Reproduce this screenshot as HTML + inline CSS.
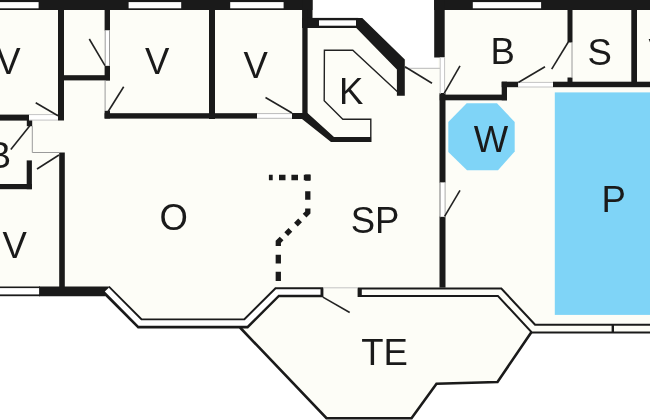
<!DOCTYPE html>
<html><head><meta charset="utf-8">
<style>
html,body{margin:0;padding:0;background:#fff;}
body{width:650px;height:420px;overflow:hidden;}
svg{display:block;}
text{font-family:"Liberation Sans",sans-serif;font-size:36.5px;fill:#1a1a1a;}
</style></head><body>
<svg width="650" height="420" viewBox="0 0 650 420">
<!-- interior fill -->
<polygon points="0,0 313,0 313,18 360,18 406,60 406,68 438,68 438,0 650,0 650,333 532,333 497,382 436,383 411,418 328,418 240,327 140,327 105,295 0,295" fill="#fdfdf7"/>
<!-- pool -->
<rect x="554.8" y="92.4" width="96" height="222.5" fill="#7fd4f7"/>
<polygon points="466.7,103.3 497,103.3 514.7,122 514.7,151.5 498,170.3 467,170.3 448.3,152 448.3,122" fill="#7fd4f7"/>

<g fill="#1a1a1a">
<!-- top wall left -->
<rect x="0" y="0" width="312.5" height="10"/>
<rect x="302.2" y="0" width="10.3" height="28"/>
<rect x="302.3" y="17.9" width="56" height="10.1"/>
<polygon points="356.8,17.9 362.3,17.9 404.8,59.6 404.8,95.8 396.9,95.8 396.9,69.5 356.3,28"/>
<!-- verticals -->
<rect x="58" y="9" width="6" height="111.5"/>
<rect x="104.6" y="9" width="5.4" height="21.5"/>
<rect x="104.6" y="65.6" width="5.4" height="14.8"/>
<rect x="64" y="75.2" width="46" height="5.2"/>
<rect x="209" y="9" width="6" height="110"/>
<rect x="302.3" y="9" width="5.3" height="109.6"/>
<!-- horizontal wall under V2,V3 -->
<rect x="104.6" y="113.2" width="152.4" height="5.4"/>
<rect x="104.6" y="110.8" width="5.4" height="7.7"/>
<rect x="292" y="113" width="14" height="6"/>
<polygon points="302,113 307.5,113 334,137 371.5,137 371.5,142 331,142 302,119"/>
<!-- left B room -->
<rect x="0" y="114.6" width="29" height="6"/>
<rect x="26.8" y="120" width="5.4" height="6.2"/>
<rect x="26.7" y="160.4" width="5.2" height="28.8"/>
<rect x="0" y="184" width="31.9" height="5.2"/>
<rect x="59.2" y="152.5" width="5.6" height="135"/>
<polygon points="39,286.5 109,286.5 105.3,296.2 39,296.2"/>
<!-- right block top -->
<rect x="434.2" y="0" width="216" height="10"/>
<rect x="434.2" y="0" width="10.5" height="57.5"/>
<rect x="439.7" y="94.6" width="67.3" height="5.7"/>
<rect x="501.7" y="81.7" width="5.3" height="18.6"/>
<rect x="501.7" y="81.7" width="16.6" height="5.5"/>
<rect x="553" y="81.7" width="98" height="5.5"/>
<rect x="567.5" y="9" width="5" height="33.5"/>
<rect x="567.5" y="77.5" width="5" height="5"/>
<rect x="631.3" y="9" width="5.7" height="73"/>
<rect x="439.5" y="93" width="6" height="89.6"/>
<rect x="439.5" y="216.6" width="6" height="71"/>
</g>

<!-- windows (white inserts) -->
<g fill="#fff">
<rect x="0" y="2.1" width="38.6" height="6.2"/>
<rect x="128.6" y="2.1" width="52.6" height="6.2"/>
<rect x="230.2" y="2.1" width="53.4" height="6.2"/>
<rect x="319" y="20.3" width="37" height="5.4"/>
<rect x="472.8" y="2.1" width="68.3" height="6.2"/>
</g>

<!-- double-line windows bottom -->
<g fill="none" stroke="#1a1a1a" stroke-width="10" stroke-linejoin="miter">
<polyline points="106,289.6 139.8,323.4 246,323.4 277.15,292.3 323.4,292.3"/>
</g>
<g fill="none" stroke="#fff" stroke-width="5.6" stroke-linejoin="miter">
<polyline points="106.8,289.6 139.8,323.0 246,323.0 277.15,292.0 320.5,292.0"/>
</g>
<g fill="none" stroke="#1a1a1a" stroke-width="9.6" stroke-linejoin="miter">
<polyline points="357.6,292.3 499.65,292.3 533.5,328.6 650,328.6"/>
</g>
<g fill="none" stroke="#fdfdf7" stroke-width="5.6" stroke-linejoin="miter">
<polyline points="361.8,292.3 499.65,292.3 533.5,328.6 650,328.6"/>
</g>
<rect x="611.6" y="324" width="2.4" height="9" fill="#1a1a1a"/>
<!-- left window bottom -->
<rect x="0" y="286.5" width="40" height="9.7" fill="#1a1a1a"/>
<rect x="0" y="288.1" width="39.1" height="6.3" fill="#fff"/>

<!-- terrace outline -->
<polyline points="240,327.5 326.5,418.2 411.5,418.2 436.5,383.7 497.5,382 531.5,332" fill="none" stroke="#1a1a1a" stroke-width="2.6"/>

<!-- K counter -->
<polyline points="397.5,91.8 352.8,50.3 324.4,50.3 324.2,100.8 342.8,119.2 370.8,119.2 370.8,137" fill="none" stroke="#222" stroke-width="1.4"/>

<!-- door opening white fills -->
<g fill="#fff">
<rect x="105.2" y="30.5" width="4.3" height="35.1"/>
<rect x="29" y="114.5" width="29" height="5.5"/>
<rect x="257" y="113.5" width="35" height="5"/>
<rect x="440.2" y="57.5" width="4.4" height="35.5"/>
<rect x="518.3" y="82.4" width="34.7" height="4.6"/>
<rect x="440" y="182.6" width="5.1" height="34"/>
</g>
<!-- door openings thin grey -->
<g stroke="#9a9a9a" stroke-width="1" fill="none">
<line x1="105.2" y1="30" x2="105.2" y2="66"/>
<line x1="109.5" y1="30" x2="109.5" y2="66"/>
<line x1="105.1" y1="80" x2="105.1" y2="111"/>
<line x1="29" y1="114.6" x2="58" y2="114.6" stroke="#c4c4c4"/>
<line x1="29" y1="120.1" x2="58" y2="120.1" stroke="#c4c4c4"/>
<polyline points="32.3,126 32.3,152.5 59,152.5"/>
<line x1="257" y1="113.6" x2="292" y2="113.6" stroke="#bbb"/>
<line x1="257" y1="118.3" x2="292" y2="118.3" stroke="#bbb"/>
<line x1="405" y1="68.3" x2="440" y2="68.3" stroke="#b8b8b8"/>
<line x1="440.2" y1="57.5" x2="440.2" y2="94" stroke="#c4c4c4"/>
<line x1="444.6" y1="57.5" x2="444.6" y2="94" stroke="#c4c4c4"/>
<line x1="518" y1="82.4" x2="553" y2="82.4" stroke="#c4c4c4"/>
<line x1="518" y1="87" x2="553" y2="87" stroke="#c4c4c4"/>
<line x1="572" y1="42.5" x2="572" y2="77.5"/>
<line x1="440" y1="182" x2="440" y2="217.5" stroke="#777"/>
<line x1="445.1" y1="182" x2="445.1" y2="217.5" stroke="#aaa"/>
<line x1="323" y1="287.8" x2="357.6" y2="287.8" stroke="#c4c4c4"/>
</g>

<!-- door leaves -->
<g stroke="#222" stroke-width="1.6" fill="none">
<line x1="89.3" y1="39" x2="105" y2="65.6"/>
<line x1="123.7" y1="86.7" x2="108" y2="111.7"/>
<line x1="35.7" y1="102.8" x2="58" y2="115.8"/>
<line x1="29.8" y1="125.8" x2="10.8" y2="149.5"/>
<line x1="59" y1="155" x2="37" y2="169"/>
<line x1="265.5" y1="97.5" x2="292" y2="113"/>
<line x1="405" y1="66.7" x2="432" y2="83.3"/>
<line x1="460" y1="65.8" x2="444.2" y2="93.3"/>
<line x1="518.3" y1="82.5" x2="545" y2="66.7"/>
<line x1="568.3" y1="42" x2="551.7" y2="69.2"/>
<line x1="460" y1="190.3" x2="444.6" y2="216.4"/>
<line x1="322.9" y1="297.1" x2="349.7" y2="312.5"/>
</g>

<!-- dotted line -->
<g fill="none" stroke="#1a1a1a" stroke-width="5.3">
<path d="M268.9,177.5H272.7 M279,177.5H285.5 M291.4,177.5H298 M303.8,177.5H310.5"/>
<path d="M307.8,174.6V180.8 M307.8,191.2V199.7"/>
<polyline points="307.8,208.5 307.8,212.5 304.6,215.7"/>
<path d="M300.1,220.4L295.9,224.6 M290.4,229.9L286.2,234.1"/>
<polyline points="281.6,238.5 278.3,241.8 278.3,246"/>
<path d="M278.3,254.8V263.5 M278.3,271.8V281"/>
</g>

<!-- labels -->
<g style="filter:grayscale(1)">
<text x="8.5" y="74" text-anchor="middle">V</text>
<text x="157.2" y="73.5" text-anchor="middle">V</text>
<text x="255.75" y="77.7" text-anchor="middle">V</text>
<text x="339" y="104.2">K</text>
<text x="490.4" y="64">B</text>
<text x="587.6" y="64.8">S</text>
<text x="648.5" y="64.8">V</text>
<text x="-13.2" y="167.5">B</text>
<text x="491" y="152.3" text-anchor="middle">W</text>
<text x="173.7" y="230.2" text-anchor="middle">O</text>
<text x="350.7" y="233">SP</text>
<text x="601.6" y="212.3">P</text>
<text x="14.7" y="258.3" text-anchor="middle">V</text>
<text x="361.2" y="364.7">TE</text>
</g>
</svg>
</body></html>
